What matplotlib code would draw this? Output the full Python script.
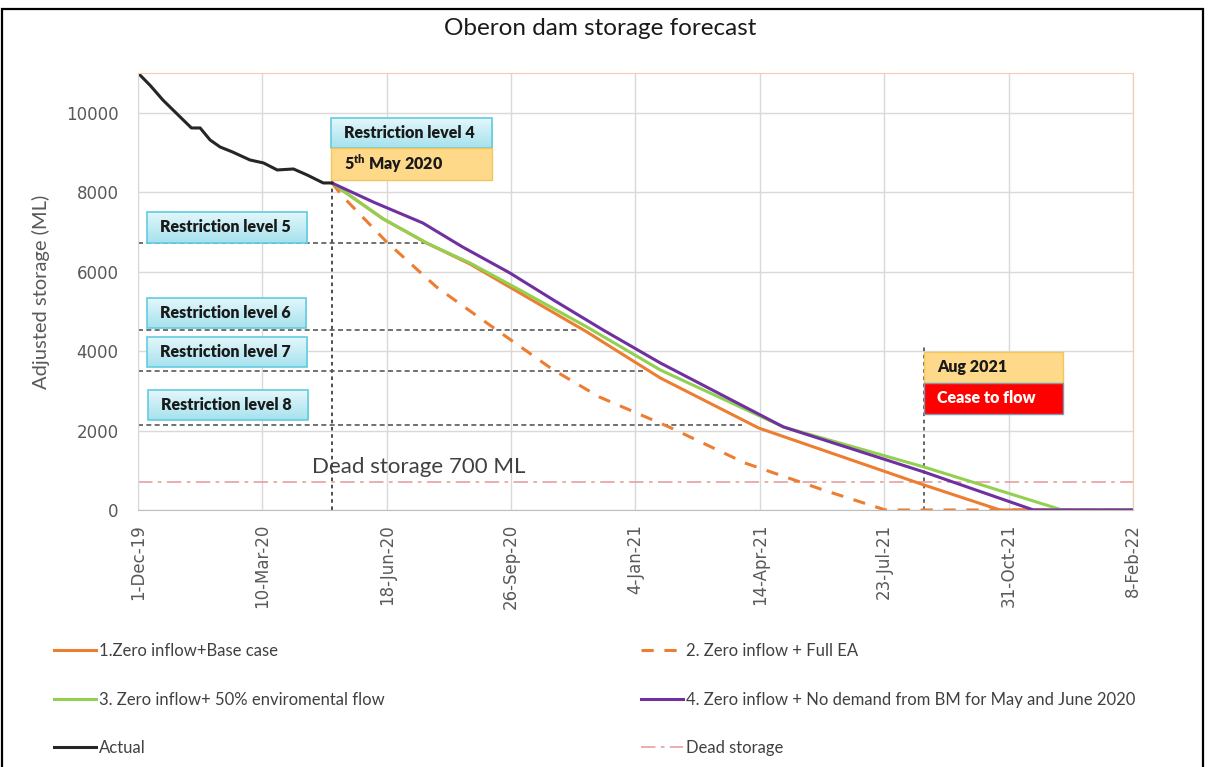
import matplotlib.pyplot as plt
import numpy as np
from matplotlib.patches import Rectangle
from matplotlib.colors import LinearSegmentedColormap

# x values are days since 1-Dec-19
tick_days = [0, 100, 200, 300, 400, 500, 600, 700, 800]
tick_labels = ['1-Dec-19', '10-Mar-20', '18-Jun-20', '26-Sep-20', '4-Jan-21',
               '14-Apr-21', '23-Jul-21', '31-Oct-21', '8-Feb-22']

actual_days = [0, 10, 20, 34, 43, 50, 58, 66, 76, 90, 101, 112, 125, 136, 149, 156]
actual_vals = [11000, 10680, 10320, 9890, 9615, 9615, 9313, 9137, 9011, 8810, 8734,
               8558, 8583, 8432, 8231, 8231]

base_days = [156, 197, 232, 267, 307, 361, 420, 499, 632, 693, 800]
base_vals = [8230, 7330, 6720, 6190, 5462, 4480, 3322, 2064, 629, 0, 0]

fullea_days = [156, 165, 200, 240, 285, 334, 371, 427, 488, 551, 601, 800]
fullea_vals = [8230, 7880, 6745, 5613, 4606, 3524, 2844, 2089, 1183, 503, 0, 0]

env_days = [156, 197, 232, 267, 307, 361, 420, 519, 632, 743, 800]
env_vals = [8230, 7330, 6720, 6217, 5537, 4606, 3524, 2089, 1082, 0, 0]

nobm_days = [156, 190, 229, 261, 299, 334, 374, 420, 519, 632, 720, 800]
nobm_vals = [8230, 7740, 7224, 6620, 5966, 5286, 4530, 3700, 2089, 956, 0, 0]

dead_days = [0, 800]
dead_vals = [700, 700]

# restriction thresholds (value, end day)
restr_levels = [6720, 4520, 3500, 2140]
restr_end = [232, 355, 406, 486]
restr_names = ['Restriction level 5', 'Restriction level 6',
               'Restriction level 7', 'Restriction level 8']

c_orange = '#ED7D31'
c_green = '#92D050'
c_purple = '#7030A0'
c_black = '#262626'
c_dead = '#E8A8A8'

fig = plt.figure(figsize=(12.08, 7.67), dpi=100)
ax = fig.add_axes([0.1142, 0.3351, 0.8237, 0.5698])

ax.set_xlim(0, 800)
ax.set_ylim(0, 11000)
ax.set_xticks(tick_days)
ax.set_xticklabels(tick_labels, rotation=90)
ax.set_yticks(range(0, 11000, 2000))
ax.tick_params(length=0, labelsize=12, labelcolor='#595959')
ax.tick_params(axis='y', pad=14)
ax.tick_params(axis='x', pad=10)
ax.grid(color='#D9D9D9', lw=1)
ax.set_axisbelow(True)
for s in ['top', 'right']:
    ax.spines[s].set_color('#F8CBAD')
ax.spines['left'].set_color('#D9D9D9')
ax.spines['bottom'].set_color('#BFBFBF')

# guide lines
ax.plot([156, 156], [0, 8150], color='#404040', lw=1.3, dashes=(2, 2))
ax.plot([632, 632], [0, 4150], color='#595959', lw=1.3, dashes=(2, 2))
for lvl, end in zip(restr_levels, restr_end):
    ax.plot([0, end], [lvl, lvl], color='#595959', lw=1.2, dashes=(3, 2))

l_dead, = ax.plot(dead_days, dead_vals, color=c_dead, lw=1.3, dashes=(8, 3, 2, 3),
                  label='Dead storage')
l2, = ax.plot(fullea_days, fullea_vals, color=c_orange, lw=2.2, dashes=(4, 3.5),
              label='2. Zero inflow + Full EA')
l1, = ax.plot(base_days, base_vals, color=c_orange, lw=2.2,
              label='1.Zero inflow+Base case')
l3, = ax.plot(env_days, env_vals, color=c_green, lw=2.2,
              label='3. Zero inflow+ 50% enviromental flow')
l4, = ax.plot(nobm_days, nobm_vals, color=c_purple, lw=2.2,
              label='4. Zero inflow + No demand from BM for May and June 2020')
la, = ax.plot(actual_days, actual_vals, color=c_black, lw=2.2, label='Actual')

cyan = LinearSegmentedColormap.from_list('cy', ['#A6E2EE', '#E4F7FB'])
grad = np.linspace(0, 1, 50).reshape(-1, 1)


def box(x0, x1, y0, y1, text, kind='cyan'):
    if kind == 'cyan':
        ax.imshow(grad, extent=(x0, x1, y0, y1), origin='lower', cmap=cyan,
                  aspect='auto', zorder=4)
        ax.add_patch(Rectangle((x0, y0), x1 - x0, y1 - y0, fill=False,
                               ec='#62CCE0', lw=1.2, zorder=5))
        col = '#1a1a1a'
    elif kind == 'yellow':
        ax.add_patch(Rectangle((x0, y0), x1 - x0, y1 - y0, fc='#FFD98A',
                               ec='#F5C55A', lw=1, zorder=5))
        col = '#1a1a1a'
    else:
        ax.add_patch(Rectangle((x0, y0), x1 - x0, y1 - y0, fc='#FF0000',
                               ec='#8497B0', lw=1, zorder=5))
        col = 'white'
    ax.text(x0 + 10.5, (y0 + y1) / 2, text, ha='left', va='center',
            fontsize=11.5, fontweight='heavy', family=['Lato', 'DejaVu Sans'],
            color=col, zorder=6)


box(155, 285, 9112, 9867, 'Restriction level 4')
box(155, 285, 8306, 9112, '5$^{\\mathregular{th}}$ May 2020', 'yellow')
box(7, 136, 6720, 7501, restr_names[0])
box(7, 135, 4581, 5336, restr_names[1])
box(7, 136, 3599, 4354, restr_names[2])
box(8, 137, 2265, 3020, restr_names[3])
box(632, 744, 3197, 3977, 'Aug 2021', 'yellow')
box(632, 744, 2416, 3197, 'Cease to flow', 'red')

ax.text(226, 1080, 'Dead storage 700 ML', ha='center', va='center', fontsize=16,
        color='#404040', family=['Lato', 'DejaVu Sans'])

ax.set_xlim(0, 800)
ax.set_ylim(0, 11000)

ax.set_ylabel('Adjusted storage (ML)', fontsize=14.5, color='#595959',
              family=['Lato', 'DejaVu Sans'])
ax.yaxis.set_label_coords(-0.088, 0.5)
fig.text(0.497, 0.963, 'Oberon dam storage forecast', ha='center', va='center',
         fontsize=17.5, color='#1a1a1a', family=['Lato', 'DejaVu Sans'])

leg_font = {'family': ['Lato', 'DejaVu Sans'], 'size': 12}
for handles, xpos in [([l1, l3, la], 0.039), ([l2, l4, l_dead], 0.525)]:
    lg = fig.legend(handles=handles, loc='upper left', bbox_to_anchor=(xpos, 0.170),
                    frameon=False, prop=leg_font, labelspacing=1.95,
                    handlelength=2.55, handletextpad=0.18, borderaxespad=0)
    for t in lg.get_texts():
        t.set_color('#404040')

fig.patches.append(Rectangle((0.0015, -0.01), 0.9945, 0.9985, transform=fig.transFigure,
                             fill=False, ec='black', lw=1.6))

fig.savefig('out.png', dpi=100)
